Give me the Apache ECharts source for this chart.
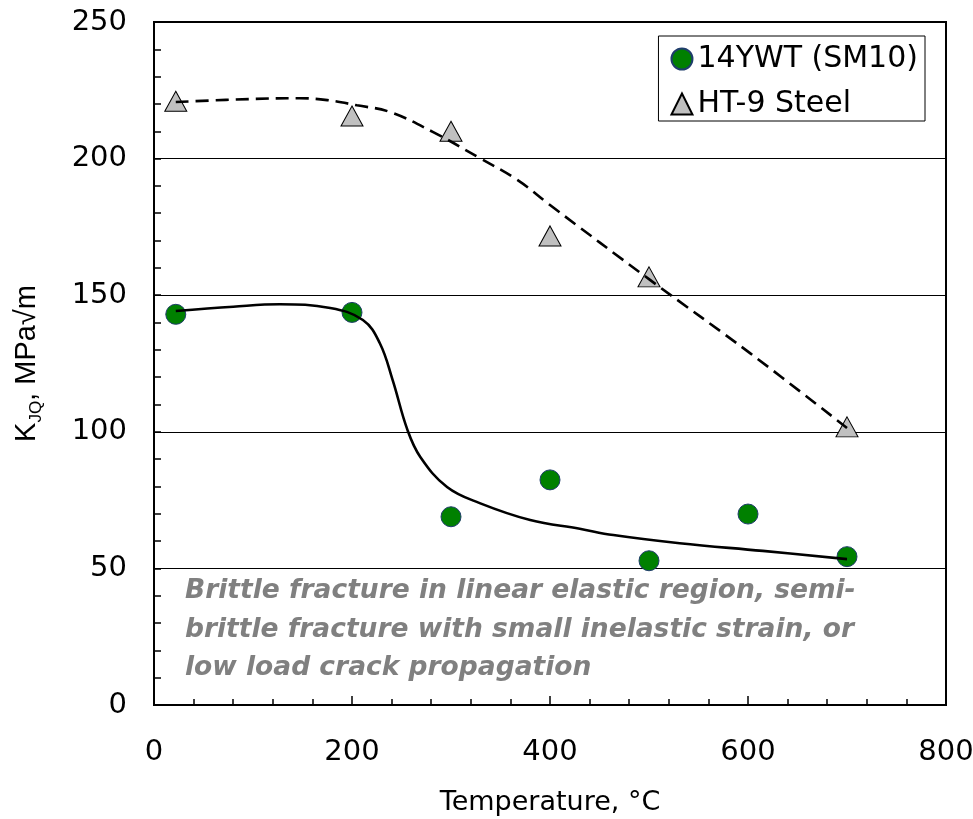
<!DOCTYPE html>
<html>
<head>
<meta charset="utf-8">
<script src="https://cdn.jsdelivr.net/npm/echarts@6/dist/echarts.min.js"></script>
<style>
html,body{margin:0;padding:0;background:#fff;}
#chart{width:973px;height:819px;}
</style>
</head>
<body>
<div id="chart"></div>
<script>
// Tick labels
const xTicks = [0, 200, 400, 600, 800];
const yTicks = [0, 50, 100, 150, 200, 250];

// 14YWT (SM10) measured points
const ywtX = [22, 200, 300, 400, 500, 600, 700];
const ywtY = [143, 143.7, 68.9, 82.4, 52.8, 69.9, 54.3];

// HT-9 Steel measured points
const ht9X = [22, 200, 300, 400, 500, 700];
const ht9Y = [221, 215.6, 210, 171.7, 156.7, 101.8];

// Trend curve for 14YWT
const fitSolidX = [22, 80, 127, 178, 211, 228, 241, 256, 269, 296, 329, 380, 430, 464, 531, 615, 700];
const fitSolidY = [144.2, 145.8, 146.7, 145.3, 140.9, 132.5, 119, 100.7, 90.8, 79.8, 73.9, 67.7, 64.5, 62.2, 59.2, 56.4, 53.4];

// Trend curve for HT-9
const fitDashX = [22, 97, 147, 175, 205, 238, 282, 329, 367, 400, 501, 602, 700];
const fitDashY = [220.7, 221.8, 222.1, 221.4, 219.5, 217.1, 209.7, 200.2, 192.2, 183, 155.6, 128.8, 101.4];

const seriesNames = ['14YWT (SM10)', 'HT-9 Steel'];
const noteLines = ['Brittle fracture in linear elastic region, semi-', 'brittle fracture with small inelastic strain, or', 'low load crack propagation'];

const zip = (a, b) => a.map((v, i) => [v, b[i]]);
const FONT = '"DejaVu Sans", sans-serif';
const FONT_ARIAL = '"Liberation Sans", Arial, sans-serif';

const chart = echarts.init(document.getElementById('chart'), null, {renderer: 'canvas'});
chart.setOption({
  animation: false,
  backgroundColor: '#fff',
  grid: {left: 154, right: 27, top: 22, bottom: 114, outerBoundsMode: 'none', containLabel: false,
    show: true, borderColor: '#000', borderWidth: 2, backgroundColor: 'transparent'},
  legend: {
    data: seriesNames,
    orient: 'vertical',
    right: 48, top: 36,
    backgroundColor: '#fff',
    borderColor: '#000', borderWidth: 1,
    padding: [8, 7, 2, 12],
    itemWidth: 21, itemHeight: 21, itemGap: 15, itemTextGap: 9,
    textStyle: {fontFamily: FONT, fontSize: 30, color: '#000'}
  },
  xAxis: {
    type: 'value', min: xTicks[0], max: xTicks[xTicks.length - 1], interval: 200,
    name: 'Temperature, °C', nameLocation: 'middle', nameGap: 84,
    nameTextStyle: {fontFamily: FONT, fontSize: 27, color: '#000'},
    axisLine: {lineStyle: {color: '#000', width: 2}},
    axisTick: {inside: true, length: 9, lineStyle: {color: '#000', width: 1.5}},
    minorTick: {show: true, splitNumber: 5, length: 6, lineStyle: {color: '#000', width: 1.5}},
    axisLabel: {fontFamily: FONT, fontSize: 29, color: '#000', margin: 33},
    splitLine: {show: false}
  },
  yAxis: {
    type: 'value', min: yTicks[0], max: yTicks[yTicks.length - 1], interval: 50,
    name: '{k|K}{s|JQ}{k|, MPa√m}', nameLocation: 'middle', nameGap: 113,
    nameTextStyle: {fontFamily: FONT_ARIAL, color: '#000', rich: {
      k: {fontFamily: FONT_ARIAL, fontSize: 29, color: '#000'},
      s: {fontFamily: FONT_ARIAL, fontSize: 17, color: '#000', verticalAlign: 'bottom', padding: [0, 0, -4, 0]}
    }},
    axisLine: {lineStyle: {color: '#000', width: 2}},
    axisTick: {inside: true, length: 7, lineStyle: {color: '#000', width: 1.5}},
    minorTick: {show: true, splitNumber: 5, length: 7, lineStyle: {color: '#000', width: 1.5}},
    axisLabel: {fontFamily: FONT, fontSize: 29, color: '#000', margin: 27},
    splitLine: {show: true, lineStyle: {color: '#000', width: 1}}
  },
  graphic: [{
    type: 'text', left: 185, top: 572, z: 5,
    style: {text: noteLines.join('\n'), font: 'italic bold 26.5px ' + FONT, fill: '#808080', lineHeight: 38.5}
  }],
  series: [
    {
      name: seriesNames[0], type: 'scatter', data: zip(ywtX, ywtY),
      symbol: 'circle', symbolSize: 20, z: 3,
      itemStyle: {color: '#008000', borderColor: '#1F3D6B', borderWidth: 1, opacity: 1}
    },
    {
      name: seriesNames[1], type: 'scatter', data: zip(ht9X, ht9Y),
      symbol: 'triangle', symbolSize: [22, 20], z: 3,
      itemStyle: {color: '#C0C0C0', borderColor: '#000', borderWidth: 1, opacity: 1}
    },
    {
      name: 'fit14', type: 'line', data: zip(fitSolidX, fitSolidY), showSymbol: false, symbol: 'none',
      smooth: 0.4, z: 4,
      lineStyle: {color: '#000', width: 2.6, type: 'solid'}
    },
    {
      name: 'fitHT', type: 'line', data: zip(fitDashX, fitDashY), showSymbol: false, symbol: 'none',
      smooth: 0.4, z: 4,
      lineStyle: {color: '#000', width: 2.6, type: [13, 7]}
    }
  ]
});
</script>
</body>
</html>
